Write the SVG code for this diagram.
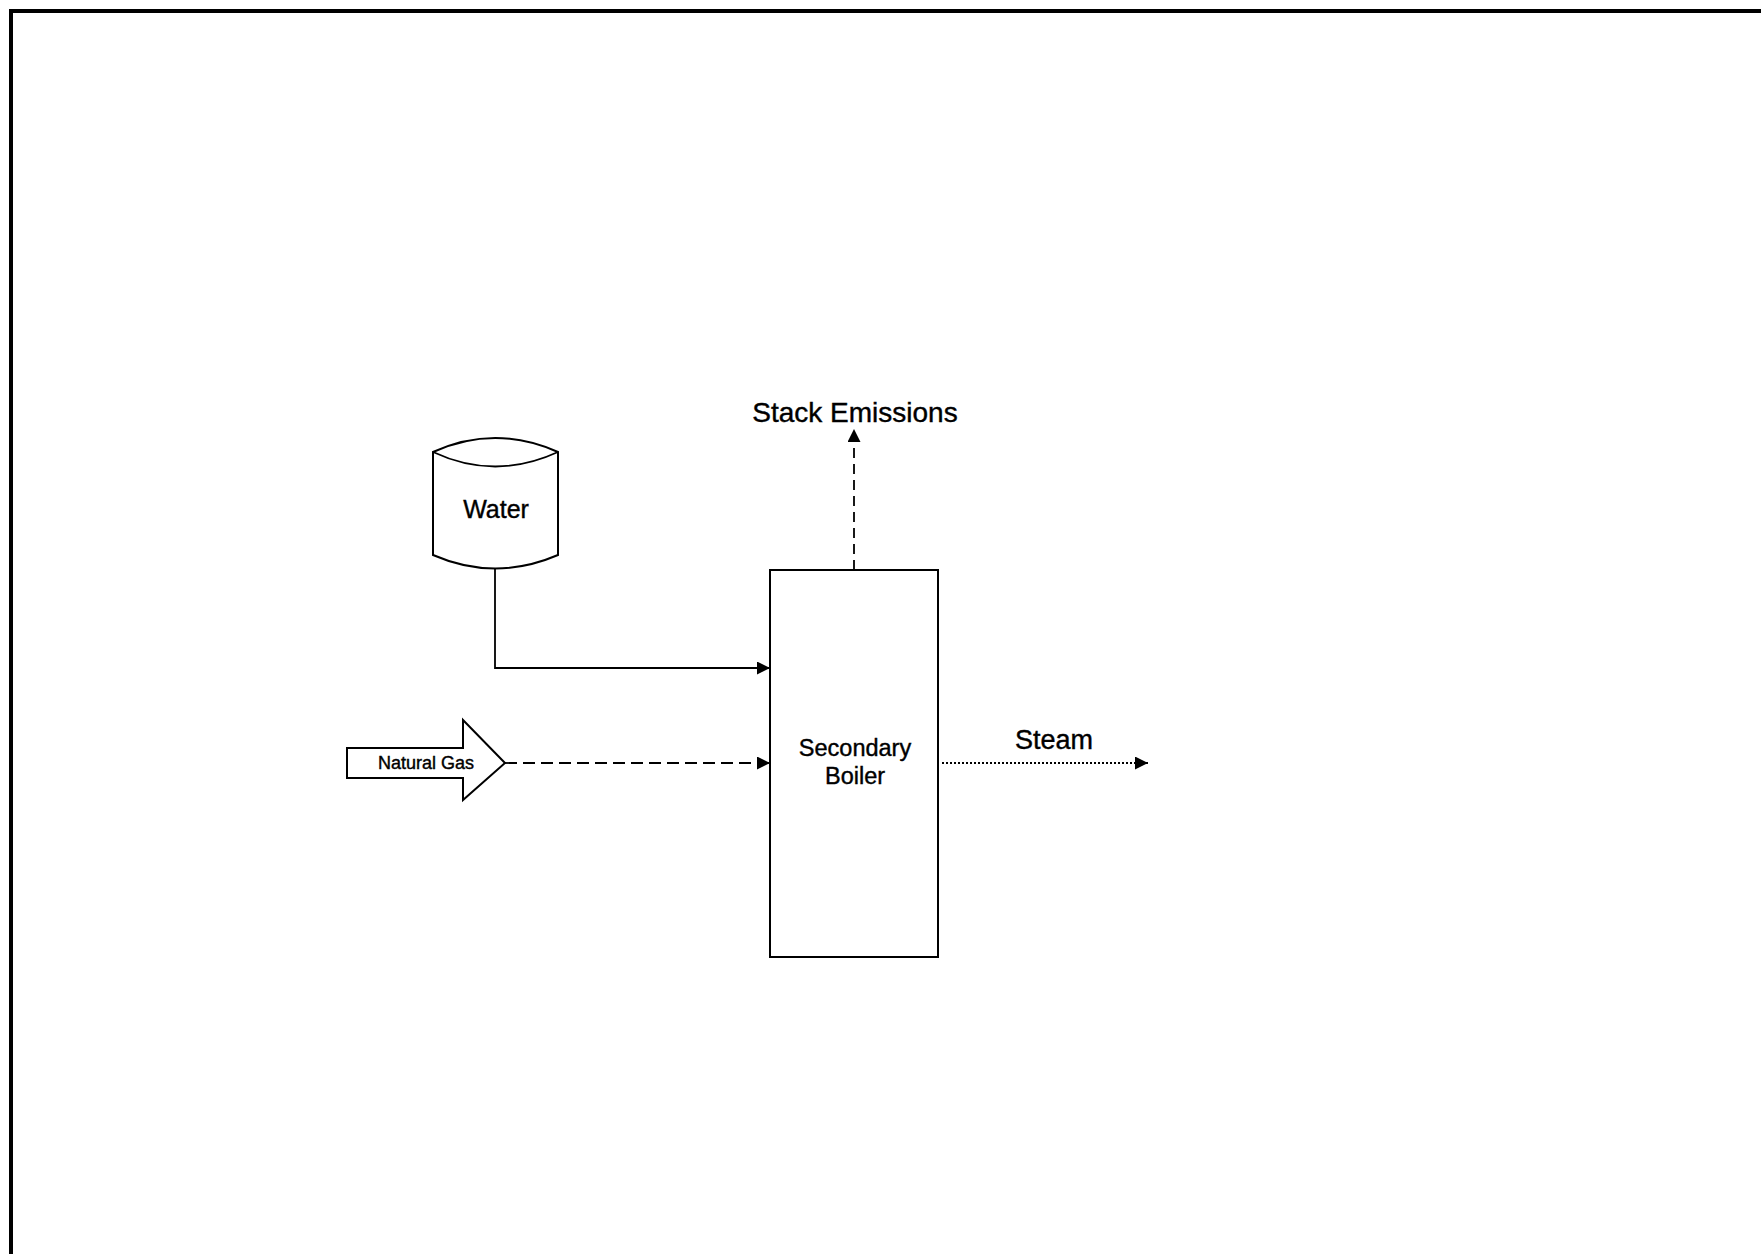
<svg xmlns="http://www.w3.org/2000/svg" width="1761" height="1254" viewBox="0 0 1761 1254">
<style>
text{font-family:"Liberation Sans",Arial,sans-serif;fill:#000;stroke:#000;stroke-width:0.4;text-anchor:middle}
.shape{fill:#fff;stroke:#000;stroke-width:2}
.line{fill:none;stroke:#000;stroke-width:1.8}
</style>
<defs>
<marker id="ah" viewBox="0 0 10 10" refX="10" refY="5" markerWidth="15" markerHeight="13" markerUnits="userSpaceOnUse" orient="auto">
<path d="M0,0 L10,5 L0,10 z" fill="#000"/>
</marker>
</defs>
<rect width="1761" height="1254" fill="#fff"/>
<path d="M11,1254 V11 H1761" fill="none" stroke="#000" stroke-width="4"/>
<g id="connectors">
<path class="line" d="M495,568 V668 H770" marker-end="url(#ah)"/>
<path class="line" d="M505,763 H770" stroke-dasharray="12,6" marker-end="url(#ah)"/>
<path class="line" d="M854,570 V429" stroke-dasharray="10,6" marker-end="url(#ah)"/>
<path class="line" d="M942,763 H1148" stroke-dasharray="2,2" marker-end="url(#ah)"/>
</g>
<g id="water">
<path class="shape" d="M433,452 Q495,424 558,452 V555 Q495,582 433,555 Z"/>
<path class="line" d="M433,452 Q495,481 558,452"/>
<text x="496" y="518" font-size="25">Water</text>
</g>
<g id="natural-gas">
<path class="shape" d="M347,748 H463 V720 L505,763 L463,800 V778 H347 Z"/>
<text x="426" y="769" font-size="18">Natural Gas</text>
</g>
<g id="boiler">
<rect class="shape" x="770" y="570" width="168" height="387"/>
<text x="855" y="756" font-size="23.5">Secondary</text>
<text x="855" y="784" font-size="23.5">Boiler</text>
</g>
<g id="stack-emissions">
<text x="855" y="422" font-size="28">Stack Emissions</text>
</g>
<g id="steam">
<text x="1054" y="749" font-size="27">Steam</text>
</g>
</svg>
